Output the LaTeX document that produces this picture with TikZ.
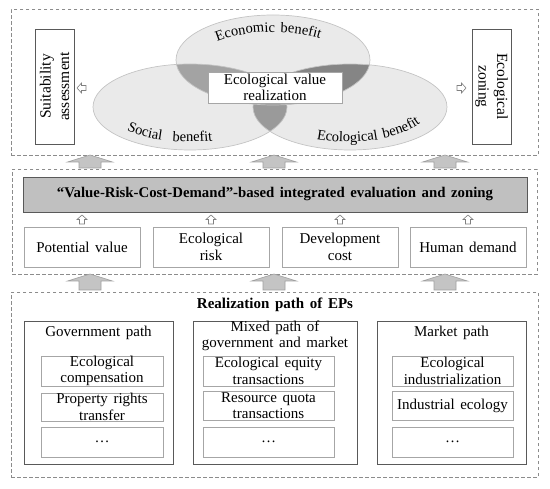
\documentclass[tikz,border=0pt]{standalone}
\usepackage{fontspec}
\setmainfont{Liberation Serif}[WordSpace=1.5]
\usetikzlibrary{decorations.text}
\definecolor{framegray}{HTML}{8C8C8C}
\definecolor{boxgray}{HTML}{A6A6A6}
\definecolor{darkline}{HTML}{595959}
\definecolor{barfill}{HTML}{C0C0C0}
\definecolor{ellfill}{HTML}{EAEAEA}
\definecolor{elldraw}{HTML}{C4C4C4}
\definecolor{lensA}{HTML}{A3A3A3}
\definecolor{lensB}{HTML}{858585}
\definecolor{lensC}{HTML}{9A9A9A}
\definecolor{arrowfill}{HTML}{C4C4C4}
\definecolor{arrowdraw}{HTML}{A0A0A0}
\begin{document}
\begin{tikzpicture}[x=1pt,y=1pt,
  frame/.style={draw=framegray, dash pattern=on 3.5pt off 2.5pt, line width=0.8pt, inner sep=0pt},
  lightbox/.style={draw=boxgray, line width=0.8pt, fill=white, inner sep=0pt, align=center,
    font=\fontsize{15}{16.5}\selectfont},
  darkbox/.style={draw=darkline, line width=0.8pt, fill=white, inner sep=0pt, align=center,
    font=\fontsize{15}{16.5}\selectfont},
  label/.style={inner sep=0pt, align=center, font=\fontsize{15}{16}\selectfont},
  pics/bigup/.style={code={
    \draw[fill=arrowfill, draw=arrowdraw, line width=0.6pt, line join=miter]
      (0,0) -- (22.5,-7) -- (11,-7) -- (11,-#1) -- (-11,-#1) -- (-11,-7) -- (-22.5,-7) -- cycle;}},
  pics/openup/.style={code={
    \draw[fill=white, draw=gray, line width=0.6pt, line join=miter]
      (0,0) -- (5,-4.5) -- (2.5,-4.5) -- (2.5,-9) -- (-2.5,-9) -- (-2.5,-4.5) -- (-5,-4.5) -- cycle;}}
]
\useasboundingbox (0,0) rectangle (550,-489);

% ---------- top frame ----------
\node[frame, minimum width=527, minimum height=146, anchor=north west] (topframe) at (11,-9) {};

% ellipses
\fill[ellfill] (273,-60) ellipse [x radius=97, y radius=45];
\fill[ellfill] (190,-107) ellipse [x radius=97, y radius=43];
\fill[ellfill] (350,-107) ellipse [x radius=97, y radius=43];
\begin{scope}
  \clip (273,-60) ellipse [x radius=97, y radius=45];
  \fill[lensA] (190,-107) ellipse [x radius=97, y radius=43];
\end{scope}
\begin{scope}
  \clip (273,-60) ellipse [x radius=97, y radius=45];
  \fill[lensB] (350,-107) ellipse [x radius=97, y radius=43];
\end{scope}
\begin{scope}
  \clip (190,-107) ellipse [x radius=97, y radius=43];
  \fill[lensC] (350,-107) ellipse [x radius=97, y radius=43];
\end{scope}
\draw[elldraw, line width=0.7pt] (273,-60) ellipse [x radius=97, y radius=45];
\draw[elldraw, line width=0.7pt] (190,-107) ellipse [x radius=97, y radius=43];
\draw[elldraw, line width=0.7pt] (350,-107) ellipse [x radius=97, y radius=43];

% curved labels
\path[decorate, decoration={text along path, text={|\fontsize{14.5}{14.5}\selectfont|Economic benefit}}]
  (273,-60) ++(138:75 and 28) arc[start angle=138, end angle=15, x radius=75, y radius=28];
\path[decorate, decoration={text along path, text={|\fontsize{14.5}{14.5}\selectfont|Social \ benefit}}]
  (190,-107) ++(222:85 and 35) arc[start angle=222, end angle=310, x radius=85, y radius=35];
\path[decorate, decoration={text along path, text={|\fontsize{14.5}{14.5}\selectfont|Ecological benefit}}]
  (348,-104) ++(248:84 and 38) arc[start angle=248, end angle=360, x radius=84, y radius=38];

\node[lightbox, minimum width=134, minimum height=31] (evr) at (275,-87.5) {Ecological value\\realization};

\node[darkbox, rotate=90, minimum width=115, minimum height=39,
  font=\fontsize{15.5}{18.5}\selectfont] (suit) at (54.5,-86.5) {Suitability\\assessment};
\node[darkbox, rotate=-90, minimum width=115, minimum height=39,
  font=\fontsize{15.5}{18.5}\selectfont] (zone) at (491.5,-86.5) {Ecological\\zoning};
\pic[rotate=90] at (77,-88) {openup};
\pic[rotate=-90] at (466,-88) {openup};

% big arrows top
\pic at (90,-155) {bigup=13};
\pic at (274,-155) {bigup=13};
\pic at (445,-155) {bigup=13};

% ---------- middle frame ----------
\node[frame, minimum width=525, minimum height=105, anchor=north west] (midframe) at (12,-169) {};
\node[draw=darkline, fill=barfill, line width=0.8pt, minimum width=504, minimum height=35, inner sep=0pt,
  font=\bfseries\fontsize{14.8}{16}\selectfont] (bar) at (275,-194.5)
  {“Value-Risk-Cost-Demand”-based integrated evaluation and zoning};

\node[lightbox, minimum width=116, minimum height=40] (pv) at (82,-247) {Potential value};
\node[lightbox, minimum width=116, minimum height=40] (er) at (211,-247) {Ecological\\risk};
\node[lightbox, minimum width=116, minimum height=40] (dc) at (340,-247) {Development\\cost};
\node[lightbox, minimum width=116, minimum height=40] (hd) at (468,-247) {Human demand};
\pic at (82,-215) {openup};
\pic at (211,-215) {openup};
\pic at (340,-215) {openup};
\pic at (468,-215) {openup};

% big arrows bottom
\pic at (90,-274) {bigup=16};
\pic at (274,-274) {bigup=16};
\pic at (445,-274) {bigup=16};

% ---------- bottom frame ----------
\node[frame, minimum width=527, minimum height=185, anchor=north west] (botframe) at (11,-292) {};
\node[label, font=\bfseries\fontsize{15}{16}\selectfont] (rp) at (275,-305) {Realization path of EPs};

\node[darkbox, minimum width=149, minimum height=143] (gov) at (98.5,-392.5) {};
\node[darkbox, minimum width=164, minimum height=143] (mix) at (275,-392.5) {};
\node[darkbox, minimum width=149, minimum height=143] (mkt) at (451.5,-392.5) {};

\node[label] (govl) at (98.5,-333) {Government path};
\node[label] (mixl) at (275,-335.5) {Mixed path of\\government and market};
\node[label] (mktl) at (451.5,-333) {Market path};

\node[lightbox, minimum width=122, minimum height=30] (g1) at (102,-371) {Ecological\\compensation};
\node[lightbox, minimum width=122, minimum height=28] (g2) at (102,-407) {Property rights\\transfer};
\node[lightbox, minimum width=122, minimum height=30] (g3) at (102,-442) {…};

\node[lightbox, minimum width=131, minimum height=30] (m1) at (268.5,-371) {Ecological equity\\transactions};
\node[lightbox, minimum width=131, minimum height=29] (m2) at (268.5,-405.5) {Resource quota\\transactions};
\node[lightbox, minimum width=131, minimum height=30] (m3) at (268.5,-442) {…};

\node[lightbox, minimum width=121, minimum height=30] (k1) at (452.5,-371) {Ecological\\industrialization};
\node[lightbox, minimum width=121, minimum height=29] (k2) at (452.5,-405.5) {Industrial ecology};
\node[lightbox, minimum width=121, minimum height=30] (k3) at (452.5,-442) {…};
\end{tikzpicture}
\end{document}
